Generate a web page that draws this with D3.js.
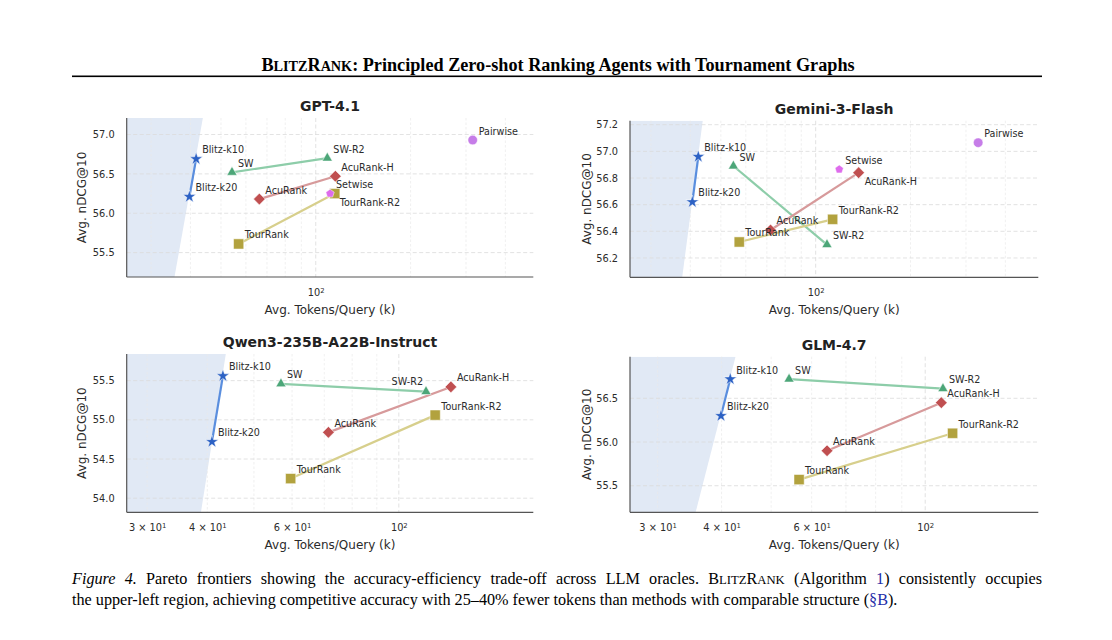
<!DOCTYPE html>
<html><head><meta charset="utf-8">
<script src="https://cdn.jsdelivr.net/npm/d3@7"></script>
<style>body{margin:0;background:#fff}</style>
</head><body><svg id="c" width="1112" height="640" xmlns="http://www.w3.org/2000/svg"></svg>
<script>
// ---------------- DATA ----------------
const methods = ["Blitz-k10","Blitz-k20","SW","SW-R2","AcuRank","AcuRank-H","TourRank","TourRank-R2","Setwise","Pairwise"];
const families = ["Blitz","SW","AcuRank","TourRank","Setwise","Pairwise"];
const methodFamily = ["Blitz","Blitz","SW","SW","AcuRank","AcuRank","TourRank","TourRank","Setwise","Pairwise"];
const pairs = [["Blitz-k10","Blitz-k20"],["SW","SW-R2"],["AcuRank","AcuRank-H"],["TourRank","TourRank-R2"]];

const gptTokens    = [41.7, 39.7, 54.2, 108.8, 66.2, 115.4, 56.9, 114.9, 111.0, 315];
const gptNdcg      = [56.69, 56.21, 56.52, 56.70, 56.18, 56.47, 55.61, 56.25, 56.25, 56.93];
const geminiTokens = [42.4, 40.6, 54.8, 108.6, 71.9, 136.9, 57.2, 113.2, 118.8, 328];
const geminiNdcg   = [56.96, 56.62, 56.89, 56.30, 56.41, 56.84, 56.32, 56.49, 56.865, 57.065];
const qwenTokens   = [43.1, 40.9, 56.9, 113.9, 71.4, 128.3, 59.6, 119.0, null, null];
const qwenNdcg     = [55.56, 54.72, 55.46, 55.36, 54.84, 55.42, 54.25, 55.06, null, null];
const glmTokens    = [41.6, 39.9, 54.2, 108.3, 64.3, 107.5, 56.7, 113.1, null, null];
const glmNdcg      = [56.72, 56.30, 56.72, 56.61, 55.90, 56.45, 55.57, 56.10, null, null];

// shaded Pareto-dominated region: token value at top and bottom of y-range
const gptShade = [43.8, 35.6];
const geminiShade = [43.8, 37.7];
const qwenShade = [43.7, 38.8];
const glmShade = [42.6, 35.6];

// axis limits and ticks
const gptXLim = [25.1, 490.6],   gptYLim = [55.19, 57.21];
const geminiXLim = [25.74, 509], geminiYLim = [56.055, 57.23];
const qwenXLim = [27.2, 190.3],  qwenYLim = [53.82, 55.84];
const glmXLim = [26.5, 166.3],   glmYLim = [55.196, 56.976];
const gptYTicks = [55.5, 56.0, 56.5, 57.0];
const geminiYTicks = [56.2, 56.4, 56.6, 56.8, 57.0, 57.2];
const qwenYTicks = [54.0, 54.5, 55.0, 55.5];
const glmYTicks = [55.5, 56.0, 56.5];
const wideXTicks = [100];
const narrowXTicks = [30, 40, 60, 100];
const wideMinor = [30,40,50,60,70,80,90,200,300,400];
const narrowMinor = [30,40,50,60,70,80,90];
const tickLabelParts = {30:["3 \u00d7 10","1"], 40:["4 \u00d7 10","1"], 60:["6 \u00d7 10","1"], 100:["10","2"]};

// ---------------- STYLE / LAYOUT ----------------
const famColor = {Blitz:"#2c61c4", SW:"#4ca678", AcuRank:"#c04f50", TourRank:"#b2a23e", Setwise:"#de6cec", Pairwise:"#c67de8"};
const lineColor = {Blitz:"#5a8ede", SW:"#8dcda9", AcuRank:"#d79a9b", TourRank:"#d7cf8c"};

const symbolPentagon = {draw(ctx, size){
  const r = Math.sqrt(size/(2.5*Math.sin(2*Math.PI/5)));
  for(let i=0;i<5;i++){const a=-Math.PI/2+i*2*Math.PI/5; const px=r*Math.cos(a), py=r*Math.sin(a); i?ctx.lineTo(px,py):ctx.moveTo(px,py);} ctx.closePath();}};
const famSymbol = {Blitz:[d3.symbolStar,52,0], SW:[d3.symbolTriangle,44,0], AcuRank:[d3.symbolSquare,68,45], TourRank:[d3.symbolSquare,104,0], Setwise:[symbolPentagon,46,0], Pairwise:[d3.symbolCircle,72,0]};

const defaultOffset = [6, -5.5, "start"];
const panels = [
  {title:"GPT-4.1", tokens:gptTokens, ndcg:gptNdcg, shade:gptShade, xLim:gptXLim, yLim:gptYLim, yTicks:gptYTicks, xTicks:wideXTicks, minor:wideMinor,
   box:{l:126.7,r:533.3,t:118,b:277}, titleY:111, ylabX:81.7, offsets:{"TourRank-R2":[5,12,"start"]}},
  {title:"Gemini-3-Flash", tokens:geminiTokens, ndcg:geminiNdcg, shade:geminiShade, xLim:geminiXLim, yLim:geminiYLim, yTicks:geminiYTicks, xTicks:wideXTicks, minor:wideMinor,
   box:{l:630,r:1038.3,t:120.7,b:277.3}, titleY:114, ylabX:586.7, offsets:{"AcuRank-H":[6,12,"start"]}},
  {title:"Qwen3-235B-A22B-Instruct", tokens:qwenTokens, ndcg:qwenNdcg, shade:qwenShade, xLim:qwenXLim, yLim:qwenYLim, yTicks:qwenYTicks, xTicks:narrowXTicks, minor:narrowMinor,
   box:{l:126.7,r:533.3,t:354,b:512.3}, titleY:346.5, ylabX:81.7, offsets:{"SW-R2":[-3,-6.5,"end"]}},
  {title:"GLM-4.7", tokens:glmTokens, ndcg:glmNdcg, shade:glmShade, xLim:glmXLim, yLim:glmYLim, yTicks:glmYTicks, xTicks:narrowXTicks, minor:narrowMinor,
   box:{l:630,r:1038.3,t:356.7,b:512.3}, titleY:350, ylabX:586.7, offsets:{}}
];

const FONT = "'DejaVu Sans', sans-serif";
const svg = d3.select("#c");

panels.forEach((p, pi) => {
  const x = d3.scaleLog().domain(p.xLim).range([p.box.l, p.box.r]);
  const y = d3.scaleLinear().domain(p.yLim).range([p.box.b, p.box.t]);
  const g = svg.append("g");
  const cid = "clip"+pi;
  g.append("clipPath").attr("id",cid).append("rect")
    .attr("x",p.box.l).attr("y",p.box.t).attr("width",p.box.r-p.box.l).attr("height",p.box.b-p.box.t);

  // shade
  g.append("path").attr("clip-path",`url(#${cid})`)
    .attr("d", d3.line()([[x(p.xLim[0]), y(p.yLim[1])],[x(p.shade[0]), y(p.yLim[1])],[x(p.shade[1]), y(p.yLim[0])],[x(p.xLim[0]), y(p.yLim[0])]]))
    .attr("fill","#e1e9f5");

  // minor grid
  g.selectAll(".mg").data(p.minor.filter(v=>v>p.xLim[0]&&v<p.xLim[1])).enter().append("line")
    .attr("x1",d=>x(d)).attr("x2",d=>x(d)).attr("y1",p.box.t).attr("y2",p.box.b)
    .attr("stroke","#e9e9e9").attr("stroke-width",0.7).attr("stroke-dasharray","2.5,2");
  // major x grid
  g.selectAll(".xg").data([100]).enter().append("line")
    .attr("x1",d=>x(d)).attr("x2",d=>x(d)).attr("y1",p.box.t).attr("y2",p.box.b)
    .attr("stroke","#dadada").attr("stroke-width",0.8).attr("stroke-dasharray","4,2.5");
  // y grid
  g.selectAll(".yg").data(p.yTicks).enter().append("line")
    .attr("x1",p.box.l).attr("x2",p.box.r).attr("y1",d=>y(d)).attr("y2",d=>y(d))
    .attr("stroke","#dadada").attr("stroke-width",0.8).attr("stroke-dasharray","4,2.5");

  // spines
  g.append("line").attr("x1",p.box.l).attr("x2",p.box.l).attr("y1",p.box.t).attr("y2",p.box.b).attr("stroke","#555").attr("stroke-width",1.2);
  g.append("line").attr("x1",p.box.l).attr("x2",p.box.r).attr("y1",p.box.b).attr("y2",p.box.b).attr("stroke","#555").attr("stroke-width",1.2);

  // points
  const pts = methods.map((m,i)=>({m, fam:methodFamily[i], t:p.tokens[i], v:p.ndcg[i]})).filter(d=>d.t!=null);
  const byName = Object.fromEntries(pts.map(d=>[d.m,d]));

  // connecting lines
  pairs.forEach(([a,b])=>{
    if(!byName[a]||!byName[b]) return;
    g.append("path").attr("d", d3.line().x(d=>x(d.t)).y(d=>y(d.v))([byName[a],byName[b]]))
      .attr("stroke", lineColor[byName[a].fam]).attr("stroke-width",2.2).attr("fill","none");
  });

  // markers
  pts.forEach(d=>{
    const [type,size,rot] = famSymbol[d.fam];
    g.append("path").attr("d", d3.symbol().type(type).size(size)())
      .attr("transform",`translate(${x(d.t)},${y(d.v)}) rotate(${rot})`)
      .attr("fill", famColor[d.fam]).attr("stroke","#fff").attr("stroke-width",0.5);
  });

  // labels
  pts.forEach(d=>{
    const o = p.offsets[d.m] || defaultOffset;
    g.append("text").attr("x", x(d.t)+o[0]).attr("y", y(d.v)+o[1]).attr("text-anchor",o[2])
      .attr("font-family",FONT).attr("font-size",9.6).attr("fill","#2b2b2b").text(d.m);
  });

  // y axis
  const ya = g.append("g").attr("transform",`translate(${p.box.l},0)`)
    .call(d3.axisLeft(y).tickValues(p.yTicks).tickSize(0).tickPadding(12).tickFormat(d3.format(".1f")));
  ya.select(".domain").remove();
  ya.selectAll("text").attr("font-family",FONT).attr("font-size",9.8).attr("fill","#2b2b2b");

  // x axis
  const xa = g.append("g").attr("transform",`translate(0,${p.box.b})`)
    .call(d3.axisBottom(x).tickValues(p.xTicks).tickSize(0).tickPadding(12).tickFormat(d=>""));
  xa.select(".domain").remove();
  xa.selectAll("text").each(function(d){
    const t = d3.select(this).attr("font-family",FONT).attr("font-size",9.8).attr("fill","#2b2b2b");
    const parts = tickLabelParts[d];
    t.append("tspan").text(parts[0]);
    t.append("tspan").attr("dy","-0.45em").attr("font-size","0.7em").text(parts[1]);
  });

  // axis labels
  const cx = (p.box.l+p.box.r)/2, cy = (p.box.t+p.box.b)/2;
  g.append("text").attr("x",cx).attr("y",p.box.b+36.5).attr("text-anchor","middle")
    .attr("font-family",FONT).attr("font-size",12).attr("fill","#2b2b2b").text("Avg. Tokens/Query (k)");
  g.append("text").attr("transform",`translate(${p.ylabX+4.3},${cy}) rotate(-90)`).attr("text-anchor","middle")
    .attr("font-family",FONT).attr("font-size",12).attr("fill","#2b2b2b").text("Avg. nDCG@10");
  // title
  g.append("text").attr("x",cx).attr("y",p.titleY).attr("text-anchor","middle")
    .attr("font-family",FONT).attr("font-weight","bold").attr("font-size",14).attr("fill","#222").text(p.title);
});

// ---------------- PAGE HEADER ----------------
const SERIF = "'Liberation Serif', 'Times New Roman', serif";
const head = svg.append("text").attr("x",558).attr("y",71).attr("text-anchor","middle")
  .attr("font-family",SERIF).attr("font-weight","bold").attr("font-size",18.2).attr("fill","#000");
head.append("tspan").text("B");
head.append("tspan").attr("font-size",14.2).text("LITZ");
head.append("tspan").text("R");
head.append("tspan").attr("font-size",14.2).text("ANK");
head.append("tspan").text(": Principled Zero-shot Ranking Agents with Tournament Graphs");
svg.append("rect").attr("x",72).attr("y",75.5).attr("width",970).attr("height",1.6).attr("fill","#000");

// ---------------- CAPTION ----------------
const cap1 = svg.append("text").attr("x",72).attr("y",584).attr("font-family",SERIF).attr("font-size",16.2).attr("fill","#000");
cap1.append("tspan").attr("font-style","italic").text("Figure 4.");
cap1.append("tspan").text(" Pareto frontiers showing the accuracy-efficiency trade-off across LLM oracles. B");
cap1.append("tspan").attr("font-size",12.7).text("LITZ");
cap1.append("tspan").text("R");
cap1.append("tspan").attr("font-size",12.7).text("ANK");
cap1.append("tspan").text(" (Algorithm ");
cap1.append("tspan").attr("fill","#1f2ea8").text("1");
cap1.append("tspan").text(") consistently occupies");
const cap2 = svg.append("text").attr("x",72).attr("y",605).attr("font-family",SERIF).attr("font-size",16.2).attr("fill","#000");
cap2.append("tspan").text("the upper-left region, achieving competitive accuracy with 25\u201340% fewer tokens than methods with comparable structure (");
cap2.append("tspan").attr("fill","#1f2ea8").text("\u00a7B");
cap2.append("tspan").text(").");
// justify first line
const len1 = cap1.node().getComputedTextLength();
const nSp = (cap1.text().match(/ /g)||[]).length;
cap1.attr("word-spacing", ((970-len1)/nSp).toFixed(3));
</script></body></html>
